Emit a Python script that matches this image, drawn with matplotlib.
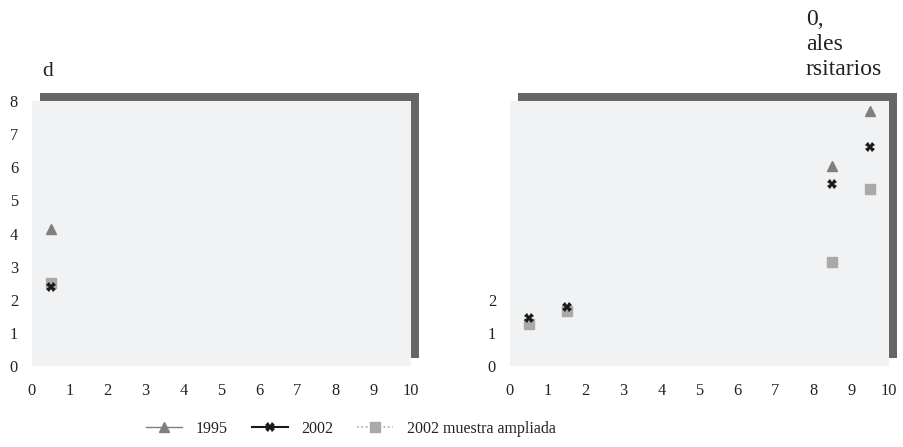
import matplotlib
matplotlib.use("Agg")
import matplotlib.pyplot as plt
from matplotlib.patches import Rectangle
from matplotlib.lines import Line2D

plt.rcParams['font.family'] = ['Liberation Serif', 'DejaVu Serif']

# Data
left_x = [0.5]
left_1995 = [4.15]
left_2002 = [2.4]
left_2002a = [2.5]

right_x = [0.5, 1.5, 8.5, 9.5]
right_1995_x = [8.5, 9.5]
right_1995 = [6.05, 7.7]
right_2002 = [1.45, 1.78, 5.5, 6.6]
right_2002a = [1.27, 1.66, 3.15, 5.35]

x_ticks = list(range(0, 11))
left_y_ticks = list(range(0, 9))
right_y_ticks = [0, 1, 2]

left_title = "d"
right_title_lines = ["0,", "ales", "rsitarios"]
labels = ["1995", "2002", "2002 muestra ampliada"]

c_tri = '#7f7f7f'
c_x = '#1a1a1a'
c_sq = '#a9a9a9'
bg = '#f1f2f4'
shadow = '#666666'
txt = '#222222'

W, H = 904, 447
fig = plt.figure(figsize=(W/100, H/100), dpi=100)

def make_ax(x0px):
    ax = fig.add_axes([x0px/W, 1-366/H, 379/W, 265/H])
    ax.set_facecolor(bg)
    for s in ax.spines.values():
        s.set_visible(False)
    ax.set_xlim(0, 10)
    ax.set_ylim(0, 8)
    ax.set_xticks(x_ticks)
    ax.tick_params(length=0, labelsize=11.8, colors=txt)
    ax.tick_params(axis='x', pad=12)
    ax.tick_params(axis='y', pad=10)
    dx, dy = 8/379, 8/265
    r = Rectangle((dx, dy), 1, 1, transform=ax.transAxes, facecolor=shadow,
                  edgecolor='none', zorder=-1)
    fig.add_artist(r)
    return ax

ax1 = make_ax(32)
ax1.set_yticks(left_y_ticks)
ax1.plot(left_x, left_2002a, 's', color=c_sq, ms=6.5, clip_on=False)
ax1.plot(left_x, left_1995, '^', color=c_tri, ms=7.5, clip_on=False)
ax1.plot(left_x, left_2002, 'X', color=c_x, ms=7, mew=0, clip_on=False)
fig.text(42/W, 1-76/H, left_title, fontsize=15.5, color=txt, va='baseline')

ax2 = make_ax(510)
ax2.set_yticks(right_y_ticks)
ax2.plot(right_x, right_2002a, 's', color=c_sq, ms=6.5, clip_on=False)
ax2.plot(right_1995_x, right_1995, '^', color=c_tri, ms=7.5, clip_on=False)
ax2.plot(right_x, right_2002, 'X', color=c_x, ms=7, mew=0, clip_on=False)
for i, line in enumerate(right_title_lines):
    fig.text(806/W, 1-(25 + 25*i)/H, line, fontsize=17, color=txt,
             va='baseline')

handles = [
    Line2D([], [], color=c_tri, lw=1, marker='^', ms=7.5),
    Line2D([], [], color=c_x, lw=1.5, marker='X', ms=7, mew=0),
    Line2D([], [], color=c_sq, lw=1.2, ls=':', marker='s', ms=6.5),
]
fig.legend(handles, labels, loc='center', bbox_to_anchor=(351/W, 1-429/H),
           ncol=3, frameon=False, fontsize=11.5, handlelength=2.25,
           columnspacing=1.5, handletextpad=0.87, borderpad=0,
           labelcolor=txt)

fig.savefig('out.png', dpi=100)
